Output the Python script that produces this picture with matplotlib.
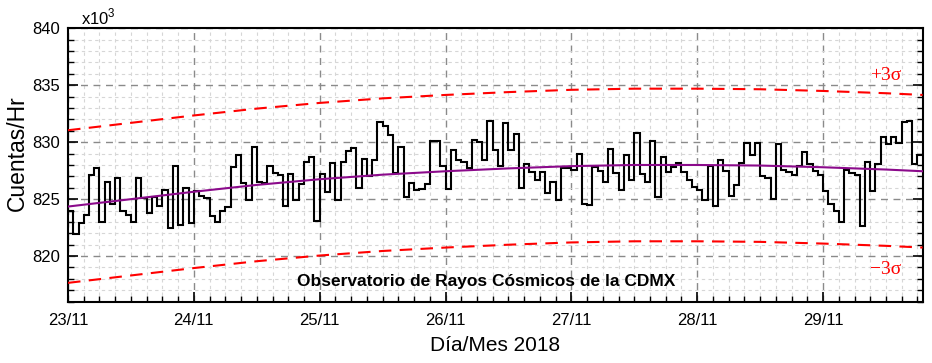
import matplotlib
matplotlib.use("Agg")
import matplotlib.pyplot as plt
import numpy as np
from matplotlib.ticker import MultipleLocator

plt.rcParams['font.family'] = ['Liberation Sans', 'DejaVu Sans']
plt.rcParams['mathtext.fontset'] = 'custom'
plt.rcParams['mathtext.rm'] = 'Liberation Sans'

# Hourly counts (x10^3), starting 23/11 00:00
counts = [
    824.0, 821.9, 822.9, 823.6, 827.1, 827.7, 823.0, 826.5, 824.6, 826.9,
    824.0, 823.6, 823.0, 826.9, 825.1, 823.8, 825.2, 824.4, 825.8, 822.5,
    827.9, 822.7, 826.0, 822.9, 825.7, 825.3, 825.1, 823.5, 823.0, 824.0,
    824.3, 827.8, 828.9, 826.4, 824.9, 829.6, 826.5, 826.4, 827.9, 827.3,
    827.1, 824.4, 827.2, 824.9, 826.3, 828.3, 828.7, 823.1, 827.2, 825.6,
    828.2, 824.9, 828.3, 829.2, 829.5, 826.0, 828.5, 827.0, 828.4, 831.8,
    831.4, 830.6, 827.3, 829.6, 825.2, 826.4, 825.8, 825.9, 826.3, 830.1,
    830.1, 827.9, 825.9, 829.3, 828.4, 828.3, 827.7, 830.2, 830.0, 828.4,
    831.9, 829.3, 827.9, 831.7, 829.3, 830.7, 826.0, 828.1, 827.4, 826.7,
    827.4, 825.5, 826.5, 824.9, 827.7, 827.7, 827.6, 829.0, 824.6, 824.5,
    827.8, 827.5, 826.5, 829.4, 827.3, 825.8, 828.9, 826.7, 830.8, 827.2,
    826.5, 830.1, 825.2, 828.7, 827.4, 827.8, 828.2, 827.4, 826.7, 826.1,
    825.8, 824.9, 827.9, 824.4, 828.4, 827.5, 825.3, 826.2, 828.2, 829.9,
    828.9, 829.9, 827.0, 826.9, 825.0, 829.8, 827.6, 827.4, 827.1, 827.9,
    829.1, 828.1, 827.5, 827.1, 825.7, 824.6, 824.0, 823.0, 827.6, 827.3,
    827.1, 822.6, 828.3, 825.7, 828.1, 830.5, 829.8, 830.5, 829.9, 831.8,
    831.9, 828.1, 828.9,
]

# Fitted trend curve read at every 12 hours
fit_hours = [0, 12, 24, 36, 48, 60, 72, 84, 96, 108, 120, 132, 144, 156, 163]
fit_values = [824.35, 825.0, 825.65, 826.25, 826.75, 827.15, 827.45, 827.7,
              827.9, 828.0, 828.0, 827.95, 827.8, 827.6, 827.45]
three_sigma = 6.7

day_labels = ['23/11', '24/11', '25/11', '26/11', '27/11', '28/11', '29/11']
day_hours = [0, 24, 48, 72, 96, 120, 144]

fig = plt.figure(figsize=(9.32, 3.63), dpi=100)
ax = fig.add_axes([0.073, 0.169, 0.917, 0.753])

edges = np.arange(len(counts) + 1)
ax.stairs(counts, edges, baseline=None, color='black', lw=1.5, zorder=4)

fit_h = np.array(fit_hours)
fit_v = np.array(fit_values)
ax.plot(fit_h, fit_v, color='#8b0a8b', lw=1.5, zorder=5)
ax.plot(fit_h, fit_v + three_sigma, color='#ff0000', lw=1.5, ls=(0, (6, 4)), zorder=3)
ax.plot(fit_h, fit_v - three_sigma, color='#ff0000', lw=1.5, ls=(0, (6, 4)), zorder=3)

ax.text(156, 835.9, '+3σ', color='#ff0000', fontsize=14, ha='center', va='center',
        family=['Liberation Serif', 'DejaVu Serif'])
ax.text(156, 818.8, '−3σ', color='#ff0000', fontsize=14, ha='center', va='center',
        family=['Liberation Serif', 'DejaVu Serif'])
ax.text(0.489, 0.072, 'Observatorio de Rayos Cósmicos de la CDMX', transform=ax.transAxes,
        ha='center', va='center', fontsize=12.5, fontweight='bold', zorder=6)

ax.set_xlim(0, len(counts))
ax.set_ylim(816, 840)
ax.set_xticks(day_hours)
ax.set_xticklabels(day_labels)
ax.xaxis.set_minor_locator(MultipleLocator(3))
ax.yaxis.set_major_locator(MultipleLocator(5))
ax.yaxis.set_minor_locator(MultipleLocator(1))

ax.grid(True, which='major', color='#8a8a8a', ls=(0, (5, 4)), lw=1.0, zorder=1)
ax.grid(True, which='minor', color='#d6d6d6', ls=(0, (3, 3)), lw=0.8, zorder=0)
ax.set_axisbelow(True)

ax.tick_params(axis='both', which='major', direction='in', length=7, width=1.2,
               labelsize=12, right=True, top=False, color='black')
ax.tick_params(axis='both', which='minor', direction='in', length=4, width=1.0,
               right=True, top=False)
ax.tick_params(axis='x', which='major', pad=8)
ax.tick_params(axis='y', which='major', pad=6)

for s in ax.spines.values():
    s.set_linewidth(1.5)
    s.set_color('black')

ax.set_xlabel('Día/Mes 2018', fontsize=15, labelpad=6)
ax.set_ylabel('Cuentas/Hr', fontsize=16.5)
ax.yaxis.set_label_coords(-0.046, 0.545)

ax.text(0.015, 1.005, r'x10$^{3}$', transform=ax.transAxes, fontsize=12,
        ha='left', va='bottom')

fig.savefig('out.png', dpi=100)
